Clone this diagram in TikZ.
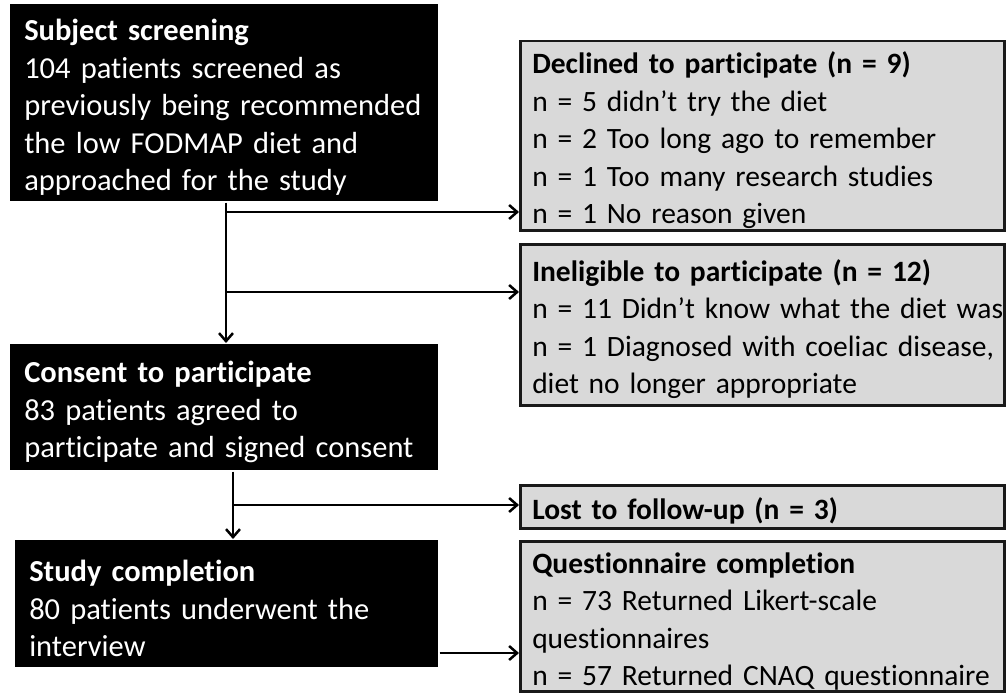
\documentclass[tikz,border=0pt]{standalone}
\usepackage{fontspec}
\setmainfont[Ligatures=NoCommon]{Carlito}
\usetikzlibrary{arrows.meta}
\definecolor{boxgray}{HTML}{D9D9D9}
\newcommand{\bigfont}{\fontsize{30.5}{37.5}\selectfont}
\newcommand{\sidefont}{\fontsize{29.5}{37.5}\selectfont}
\newcommand{\boxtitle}[1]{\rule{0pt}{31pt}\textbf{#1}}

\begin{document}
\begin{tikzpicture}[x=1pt, y=-1pt, line width=2.5pt,
	mainbox/.style={fill=black, text=white, anchor=north west, inner xsep=14pt, inner ysep=0pt, align=left, font=\bigfont},
	sidebox/.style={fill=boxgray, draw=black!90, anchor=north west, inner xsep=12pt, inner ysep=0pt, align=left, text width=460pt, font=\sidefont},
	>={Straight Barb[length=8pt,width=14pt]}]
\useasboundingbox (0,0) rectangle (1008,693);

\node[mainbox, text width=400pt, minimum height=197pt] at (9,3) (screen) {\boxtitle{Subject screening}\\104 patients screened as\\previously being recommended\\the low FODMAP diet and\\approached for the study};
\node[mainbox, text width=400pt, minimum height=126pt] at (9,343) (consent) {\boxtitle{Consent to participate}\\83 patients agreed to\\participate and signed consent};
\node[mainbox, text width=395pt, minimum height=127pt] at (14,539) (complete) {\boxtitle{Study completion}\\80 patients underwent the\\interview};

\node[sidebox, minimum height=189pt] at (519,40) (declined) {\boxtitle{Declined to participate (n = 9)}\\n = 5 didn’t try the diet\\n = 2 Too long ago to remember\\n = 1 Too many research studies\\n = 1 No reason given};
\node[sidebox, minimum height=161pt] at (519,243) (inelig) {\boxtitle{Ineligible to participate (n = 12)}\\\mbox{n = 11 Didn’t know what the diet was}\\\mbox{n = 1 Diagnosed with coeliac disease,}\\diet no longer appropriate};
\node[sidebox, minimum height=43pt] at (519,484) (lost) {\boxtitle{Lost to follow-up (n = 3)}};
\node[sidebox, minimum height=150pt] at (519,540) (quest) {\boxtitle{Questionnaire completion}\\n = 73 Returned Likert-scale\\questionnaires\\\mbox{n = 57 Returned CNAQ questionnaire}};

% branch points
\coordinate (s1) at (226,212);
\coordinate (s2) at (226,292);
\coordinate (c1) at (233,505);
\coordinate (q1) at (437,653);

\draw[->] (screen.south -| s1) -- (consent.north -| s1);
\draw[->] (s1) -- (s1 -| declined.west);
\draw[->] (s2) -- (s2 -| inelig.west);
\draw[->] (consent.south -| c1) -- (complete.north -| c1);
\draw[->] (c1) -- (c1 -| lost.west);
\draw[->] (complete.east |- q1) -- (q1 -| quest.west);
\end{tikzpicture}
\end{document}
